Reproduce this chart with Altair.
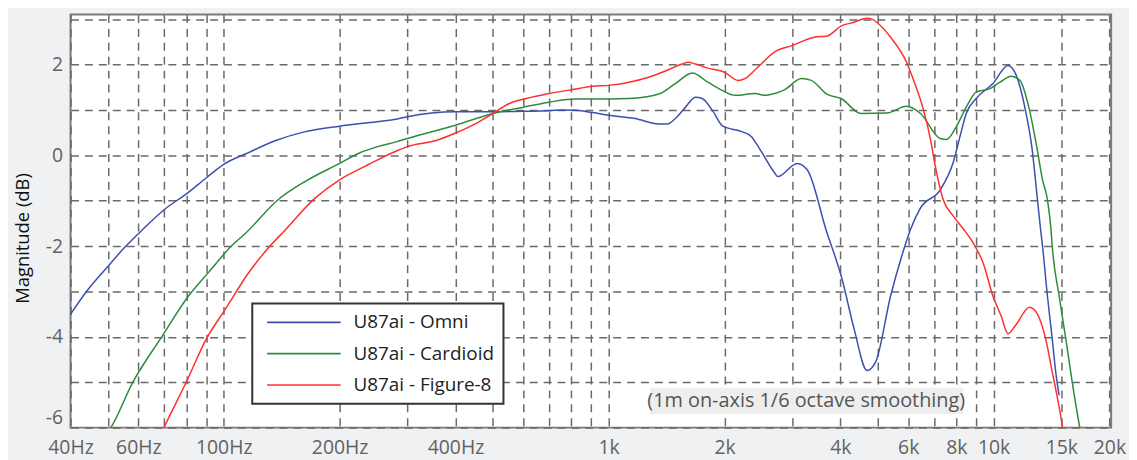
import altair as alt
import pandas as pd

# ---------------- data ----------------
series_names = ["U87ai - Omni", "U87ai - Cardioid", "U87ai - Figure-8"]
series_colors = ["#3b4fb3", "#2e8b3c", "#ff2f2f"]

omni_freq = [40, 44, 50, 55, 61.5, 70, 80, 90, 100, 116, 136, 161, 200, 250, 282, 300,
             400, 500, 600, 700, 761, 822, 910, 1000, 1170, 1350, 1420, 1490, 1580,
             1680, 1750, 1860, 1980, 2220, 2350, 2400, 2510, 2700, 2750, 3090, 3280,
             3670, 4040, 4340, 4690, 4940, 5400, 5740, 6080, 6460, 7270, 7860, 8200,
             8490, 9010, 9960, 10900, 11400, 12100, 12600, 13000, 13250, 13400, 13800,
             14200, 14500, 14800]
omni_db = [-3.5, -3.0, -2.45, -2.05, -1.64, -1.2, -0.85, -0.5, -0.2, 0.06, 0.32, 0.51,
           0.64, 0.74, 0.8, 0.85, 0.96, 0.96, 0.97, 0.98, 1.0, 0.99, 0.94, 0.88, 0.81,
           0.69, 0.69, 0.81, 1.05, 1.28, 1.25, 0.99, 0.64, 0.52, 0.41, 0.3, 0.04, -0.39,
           -0.47, -0.18, -0.32, -1.64, -2.73, -3.82, -4.74, -4.55, -3.1, -2.29, -1.64,
           -1.16, -0.76, -0.15, 0.45, 0.92, 1.25, 1.58, 1.98, 1.8, 0.99, 0.12, -0.98,
           -1.64, -2.0, -3.1, -4.04, -4.77, -5.29]

cardioid_freq = [47.5, 50.9, 57.8, 69, 81, 91.3, 104.7, 114.5, 138.4, 162.5, 200, 226.6,
                 251, 282, 300, 400, 500, 600, 700, 820, 1000, 1130, 1350, 1490, 1650,
                 1810, 1970, 2130, 2400, 2550, 2700, 2860, 3170, 3360, 3700, 4020, 4520,
                 5280, 5940, 6460, 7270, 7540, 8000, 8490, 9010, 9790, 10400, 11100,
                 11700, 12400, 12900, 13400, 13800, 14100, 14200, 14800, 15400, 16000,
                 16700, 17100]
cardioid_db = [-6.3, -6.0, -5.03, -4.0, -3.1, -2.58, -2.0, -1.7, -0.98, -0.58, -0.18,
               0.06, 0.19, 0.3, 0.37, 0.66, 0.92, 1.06, 1.17, 1.24, 1.24, 1.25, 1.35,
               1.58, 1.81, 1.61, 1.43, 1.32, 1.36, 1.32, 1.36, 1.44, 1.69, 1.65, 1.34,
               1.25, 0.92, 0.93, 1.08, 0.92, 0.37, 0.35, 0.63, 1.06, 1.39, 1.47, 1.61,
               1.74, 1.65, 0.99, 0.26, -0.54, -0.98, -1.64, -2.0, -3.1, -4.04, -4.99,
               -5.94, -6.4]

figure8_freq = [66.7, 69.9, 80, 90.2, 101, 115.8, 131.9, 144.3, 172.4, 200, 232,
                251, 282, 300, 358, 400, 454, 500, 552, 611, 700, 808, 910, 1000, 1130,
                1270, 1400, 1550, 1610, 1680, 1810, 2000, 2170, 2260, 2440, 2700, 2980,
                3420, 3700, 4020, 4340, 4690, 4830, 4970, 5400, 5940, 6200, 6580, 6860,
                7060, 7400, 7860, 8340, 8850, 9390, 9960, 10450, 10900, 11400, 12400,
                13000, 13650, 14200, 14660, 15100, 15300]
figure8_db = [-6.37, -6.0, -4.99, -4.04, -3.39, -2.6, -2.0, -1.65, -0.95, -0.54,
              -0.25, -0.1, 0.1, 0.19, 0.33, 0.49, 0.71, 0.92, 1.14, 1.25, 1.36, 1.45,
              1.52, 1.54, 1.61, 1.72, 1.85, 2.01, 2.05, 2.01, 1.92, 1.83, 1.65, 1.69,
              1.94, 2.28, 2.41, 2.6, 2.63, 2.85, 2.93, 3.02, 3.0, 2.93, 2.6, 2.05, 1.65,
              0.99, 0.34, -0.25, -0.98, -1.34, -1.62, -1.93, -2.37, -3.1, -3.53, -3.93,
              -3.75, -3.35, -3.5, -4.04, -4.77, -5.36, -6.0, -6.4]

x_grid_values = [40, 50, 60, 70, 80, 90, 100, 200, 300, 400, 500, 600, 700, 800, 900,
                 1000, 2000, 3000, 4000, 5000, 6000, 7000, 8000, 9000, 10000, 15000, 20000]
x_label_values = [40, 60, 100, 200, 400, 1000, 2000, 4000, 6000, 8000, 10000, 15000, 20000]
x_label_texts = ["40Hz", "60Hz", "100Hz", "200Hz", "400Hz", "1k", "2k", "4k", "6k", "8k",
                 "10k", "15k", "20k"]
y_grid_values = [-6, -5, -4, -3, -2, -1, 0, 1, 2, 3]

note_text = "(1m on-axis 1/6 octave smoothing)"
note_freq = [3260]
note_db = [-5.42]
note_box_freq = [1280, 8350]
note_box_db = [-5.12, -5.70]

# ---------------- tables ----------------
rows = []
for name, fs, ds in [(series_names[0], omni_freq, omni_db),
                     (series_names[1], cardioid_freq, cardioid_db),
                     (series_names[2], figure8_freq, figure8_db)]:
    for f, d in zip(fs, ds):
        rows.append({"freq": f, "db": d, "series": name})
df = pd.DataFrame(rows)

note_df = pd.DataFrame({"x": note_freq, "y": note_db, "text": [note_text]})
box_df = pd.DataFrame({"x": [note_box_freq[0]], "x2": [note_box_freq[1]],
                       "y": [note_box_db[0]], "y2": [note_box_db[1]]})

label_expr = "''"
for v, t in reversed(list(zip(x_label_values, x_label_texts))):
    label_expr = f"datum.value == {v} ? '{t}' : ({label_expr})"

FONT = "Open Sans"
GRID = dict(grid=True, gridColor="#6a6a6a", gridDash=[8, 6], gridWidth=1.5)

x_scale = alt.Scale(type="log", domain=[40, 20200], nice=False)
y_scale = alt.Scale(domain=[-6, 3.1], nice=False, zero=False)

x_axis = alt.Axis(values=x_grid_values, labelExpr=label_expr, title=None, domain=False,
                  ticks=False, tickSize=0, labelFontSize=19.5, labelFont=FONT,
                  labelColor="#626262", labelPadding=11, labelFlush=False,
                  labelOverlap=False, **GRID)
y_axis = alt.Axis(values=y_grid_values,
                  labelExpr="datum.value % 2 == 0 ? toString(datum.value) : ''",
                  title="Magnitude (dB)", titleFont=FONT, titleFontSize=18.5,
                  titleFontWeight="normal", titleColor="#111111", titleX=-42.5,
                  titleY=225, titleBaseline="alphabetic", titleAngle=270,
                  domain=False, ticks=False, tickSize=0, labelFontSize=19.5,
                  labelFont=FONT, labelColor="#626262", labelPadding=8,
                  labelFlush=True, labelOverlap=False, **GRID)

legend = alt.Legend(orient="none", legendX=183, legendY=291, title=None,
                    fillColor="white", strokeColor="#333333", padding=9,
                    symbolType="stroke", symbolSize=5476, symbolStrokeWidth=1.6,
                    symbolOffset=5, labelOffset=12, labelFont=FONT, labelFontSize=19,
                    labelColor="#222222", clipHeight=20, rowPadding=11.5,
                    labelLimit=400)

lines = alt.Chart(df).mark_line(clip=True, strokeWidth=1.5, interpolate="monotone").encode(
    x=alt.X("freq:Q", scale=x_scale, axis=x_axis),
    y=alt.Y("db:Q", scale=y_scale, axis=y_axis),
    color=alt.Color("series:N", scale=alt.Scale(domain=series_names, range=series_colors),
                    legend=legend, sort=series_names),
    detail="series:N",
)

box = alt.Chart(box_df).mark_rect(fill="#eeeeee").encode(
    x=alt.X("x:Q", scale=x_scale), x2="x2:Q",
    y=alt.Y("y:Q", scale=y_scale), y2="y2:Q",
)

note = alt.Chart(note_df).mark_text(font=FONT, fontSize=20, color="#555555",
                                    align="center", baseline="middle").encode(
    x=alt.X("x:Q", scale=x_scale),
    y=alt.Y("y:Q", scale=y_scale),
    text="text:N",
)

chart = alt.layer(box, note, lines).properties(
    width=1048, height=416,
    background="#f0f1f3",
    padding={"left": 63, "top": 5, "right": 18, "bottom": 31},
    autosize=alt.AutoSizeParams(type="none"),
).configure_view(
    fill="white", stroke="#7a7a7a", strokeWidth=2
).configure_legend(strokeWidth=2)

chart.save("out.html", embed_options={"renderer": "svg", "actions": False})
